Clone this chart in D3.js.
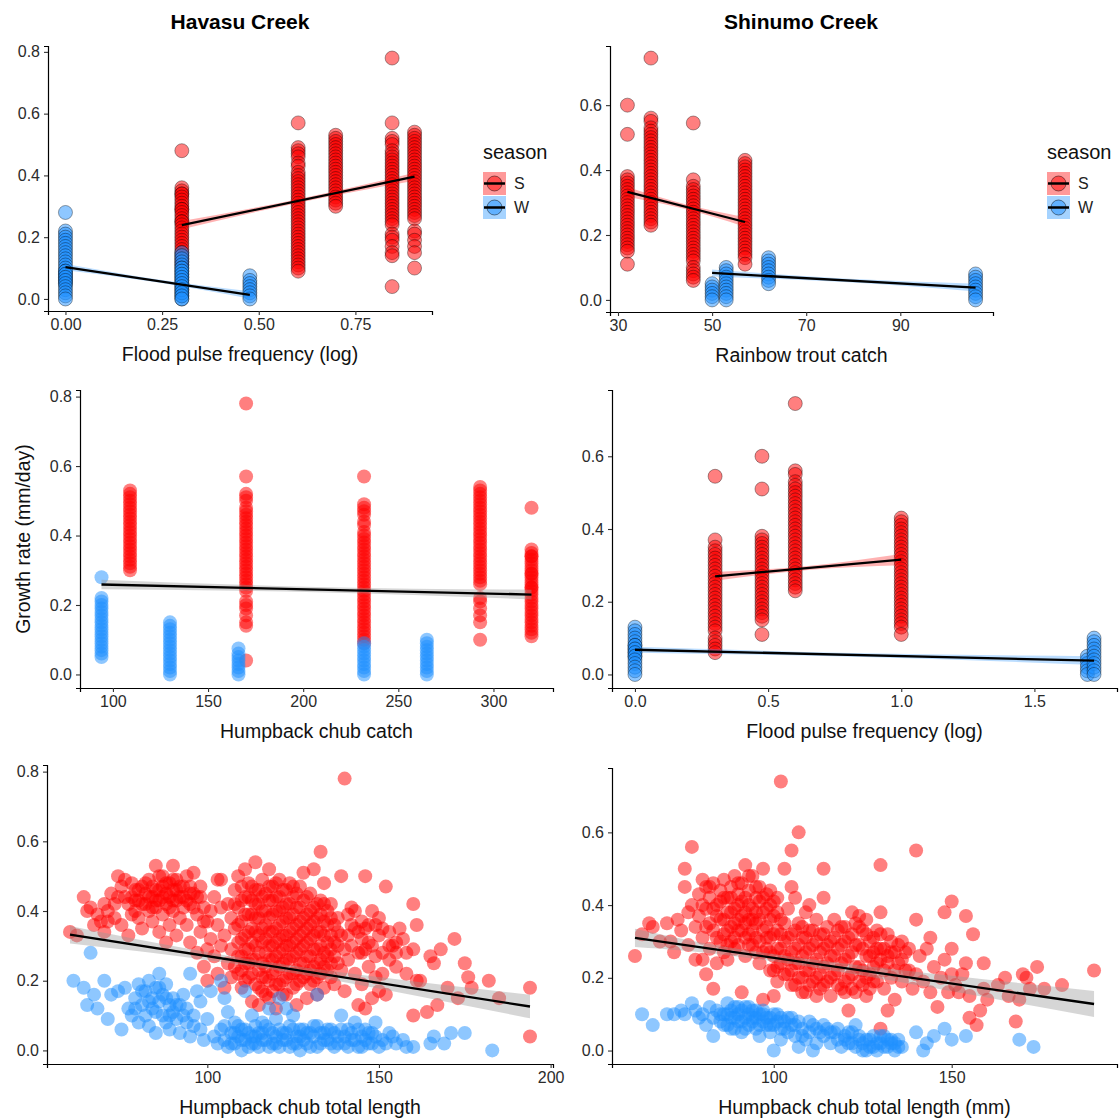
<!DOCTYPE html>
<html><head><meta charset="utf-8">
<script src="https://cdn.jsdelivr.net/npm/d3@7"></script>
<style>
body{margin:0;background:#fff;}
text{font-family:"Liberation Sans",Arial,sans-serif;}
</style></head><body>
<svg id="chart" width="1120" height="1120"></svg>
<script>
// ---------------- DATA ----------------
// Havasu Creek trips (season, flood pulse frequency (log), humpback chub catch, growth values)
const hvSeason = ["S","S","S","S","S","W","W","W","W","W"];
const hvFloodLog = [0.301,0.602,0.699,0.845,0.903,0,0,0.301,0.301,0.477];
const hvChubCatch = [320,232,109,170,293,94,232,130,265,166];
const hvTripGrowth = [
 [0.48,0.36,0.35,0.34,0.34,0.33,0.32,0.31,0.30,0.29,0.29,0.28,0.27,0.26,0.25,0.25,0.24,0.23,0.22,0.21,0.20,0.19,0.18,0.17,0.16,0.15,0.14,0.13,0.12,0.11],
 [0.57,0.49,0.48,0.47,0.46,0.44,0.43,0.41,0.40,0.39,0.38,0.37,0.36,0.35,0.34,0.33,0.32,0.31,0.30,0.29,0.28,0.27,0.26,0.25,0.24,0.23,0.22,0.21,0.20,0.19,0.18,0.17,0.16,0.15,0.14,0.13,0.12,0.11,0.10,0.09],
 [0.53,0.52,0.51,0.50,0.49,0.48,0.47,0.46,0.45,0.44,0.43,0.42,0.41,0.40,0.39,0.38,0.37,0.36,0.35,0.34,0.33,0.32,0.31,0.30],
 [0.78,0.57,0.52,0.51,0.50,0.48,0.47,0.46,0.45,0.44,0.43,0.42,0.41,0.40,0.39,0.38,0.37,0.36,0.35,0.34,0.33,0.32,0.31,0.30,0.29,0.28,0.27,0.26,0.25,0.24,0.21,0.20,0.19,0.17,0.15,0.14,0.04],
 [0.54,0.53,0.52,0.51,0.50,0.49,0.48,0.47,0.46,0.45,0.44,0.43,0.42,0.41,0.40,0.39,0.38,0.37,0.36,0.35,0.34,0.33,0.32,0.31,0.30,0.29,0.28,0.27,0.26,0.22,0.21,0.19,0.17,0.15,0.10],
 [0.28,0.22,0.21,0.20,0.19,0.18,0.17,0.16,0.15,0.14,0.13,0.12,0.11,0.10,0.09,0.08,0.07,0.06,0.05],
 [0.09,0.08,0.07,0.06,0.05,0.04,0.03,0.02,0.01,0.00],
 [0.15,0.14,0.13,0.12,0.11,0.10,0.09,0.08,0.07,0.06,0.05,0.04,0.03,0.02,0.01,0.00],
 [0.10,0.09,0.08,0.07,0.06,0.05,0.04,0.03,0.02,0.01,0.00],
 [0.075,0.06,0.05,0.04,0.03,0.02,0.01,0.00]
];
// Shinumo Creek trips (season, rainbow trout catch, flood pulse frequency (log), growth values)
const snSeason = ["S","S","S","S","W","W","W","W"];
const snTroutCatch = [32,37,46,57,50,53,62,106];
const snFloodLog = [0.477,0.602,0.301,1.0,1.699,1.724,0,0];
const snTripGrowth = [
 [0.60,0.51,0.38,0.37,0.36,0.35,0.34,0.33,0.32,0.31,0.30,0.29,0.28,0.27,0.26,0.25,0.24,0.23,0.22,0.21,0.20,0.19,0.18,0.17,0.16,0.15,0.11],
 [0.745,0.56,0.55,0.53,0.52,0.51,0.50,0.49,0.48,0.47,0.46,0.45,0.44,0.43,0.42,0.41,0.40,0.39,0.38,0.37,0.36,0.35,0.34,0.33,0.32,0.31,0.30,0.29,0.28,0.27,0.26,0.25,0.24,0.23],
 [0.545,0.37,0.35,0.34,0.33,0.32,0.31,0.30,0.29,0.28,0.27,0.26,0.25,0.24,0.23,0.22,0.21,0.20,0.19,0.18,0.17,0.16,0.15,0.14,0.13,0.12,0.10,0.09,0.08,0.07,0.06],
 [0.43,0.42,0.41,0.40,0.39,0.38,0.37,0.36,0.35,0.34,0.33,0.32,0.31,0.30,0.29,0.28,0.27,0.26,0.25,0.24,0.23,0.22,0.21,0.20,0.19,0.18,0.17,0.16,0.15,0.14,0.13,0.11],
 [0.05,0.04,0.03,0.02,0.01,0.00],
 [0.10,0.09,0.08,0.07,0.06,0.05,0.04,0.03,0.02,0.01,0.00],
 [0.13,0.12,0.11,0.10,0.09,0.08,0.07,0.06,0.05],
 [0.08,0.07,0.06,0.05,0.04,0.03,0.02,0.01,0.00]
];
// Havasu: total length (mm) vs growth
const hvLenS = [[60,0.34],[62,0.33],[64,0.44],[65,0.40],[66,0.41],[67,0.36],[68,0.39],[69,0.37],[70,0.42],[70,0.34],[71,0.40],[72,0.45],[73,0.38],[74,0.50],[74,0.44],[75,0.47],[75,0.36],[76,0.49],[77,0.42],[77,0.33],
[78,0.48],[78,0.44],[79,0.46],[79,0.40],[80,0.43],[80,0.38],[81,0.47],[81,0.35],[82,0.45],[82,0.42],[83,0.49],[83,0.40],[84,0.44],[84,0.37],[85,0.53],[85,0.46],[85,0.41],[86,0.50],[86,0.43],[86,0.34],[87,0.47],[87,0.39],[88,0.45],[88,0.42],[88,0.31],[89,0.48],[89,0.44],[89,0.36],[90,0.53],[90,0.46],[90,0.40],[91,0.49],[91,0.43],[91,0.33],[92,0.47],[92,0.38],[93,0.44],[93,0.41],[94,0.50],[94,0.36],[95,0.47],[95,0.42],[95,0.31],[96,0.51],[96,0.45],[97,0.39],[97,0.28],[98,0.44],[98,0.34],[99,0.41],[99,0.24],[100,0.37],[100,0.20],[100,0.29],
[101,0.40],[101,0.32],[102,0.44],[102,0.27],[103,0.49],[103,0.36],[103,0.22],[104,0.49],[104,0.41],[104,0.30],[105,0.33],[105,0.18],[106,0.42],[106,0.25],[107,0.38],[107,0.29],[107,0.21],[108,0.46],[108,0.35],[108,0.24],
[109,0.50],[109,0.41],[109,0.31],[109,0.22],[110,0.47],[110,0.37],[110,0.27],[110,0.18],[111,0.52],[111,0.44],[111,0.33],[111,0.25],[112,0.48],[112,0.39],[112,0.29],[112,0.21],[113,0.43],[113,0.35],[113,0.26],[113,0.14],[114,0.54],[114,0.46],[114,0.38],[114,0.30],[114,0.19],[115,0.42],[115,0.33],[115,0.23],[115,0.13],[116,0.49],[116,0.40],[116,0.31],[116,0.25],[116,0.17],[117,0.45],[117,0.36],[117,0.28],[117,0.21],[118,0.52],[118,0.43],[118,0.34],[118,0.26],[118,0.15],[119,0.47],[119,0.39],[119,0.30],[119,0.22],[120,0.44],[120,0.35],[120,0.27],[120,0.19],[120,0.12],[121,0.49],[121,0.40],[121,0.32],[121,0.24],[122,0.46],[122,0.37],[122,0.29],[122,0.20],[123,0.42],[123,0.33],[123,0.26],[123,0.16],[124,0.48],[124,0.38],[124,0.30],[124,0.22],[125,0.44],[125,0.35],[125,0.27],[125,0.18],[126,0.41],[126,0.32],[126,0.23],[126,0.13],[127,0.47],[127,0.37],[127,0.29],[127,0.20],[128,0.51],[128,0.43],[128,0.34],[128,0.25],[129,0.39],[129,0.31],[129,0.22],[129,0.15],[130,0.45],[130,0.36],[130,0.27],[130,0.19],[131,0.52],[131,0.41],[131,0.33],[131,0.24],[132,0.38],[132,0.29],[132,0.21],[132,0.16],[133,0.57],[133,0.43],[133,0.34],[133,0.26],[134,0.48],[134,0.37],[134,0.28],[134,0.18],[135,0.40],[135,0.31],[135,0.23],[136,0.42],[136,0.33],[136,0.25],[137,0.36],[137,0.27],[137,0.19],[138,0.38],[138,0.30],
[139,0.50],[139,0.33],[139,0.23],[140,0.78],[140,0.29],[140,0.17],[141,0.39],[141,0.26],[142,0.36],[142,0.30],[143,0.40],[143,0.22],[144,0.34],[144,0.13],[145,0.37],[145,0.28],[145,0.19],[146,0.50],[146,0.35],[146,0.12],[147,0.31],[147,0.24],[148,0.40],[148,0.15],[149,0.36],[149,0.21],[150,0.33],[150,0.17],[151,0.28],[151,0.22],[152,0.47],[152,0.16],[153,0.34],[153,0.26],[154,0.30],[155,0.31],[155,0.24],[157,0.32],[158,0.28],[160,0.42],[160,0.29],[160,0.10],[161,0.36],[161,0.20],[162,0.20],[164,0.11],[165,0.27],[166,0.25],[167,0.13],[168,0.29],[170,0.18],[172,0.32],[173,0.15],[175,0.25],[176,0.21],[177,0.18],[182,0.20],[185,0.15],[194,0.18],[194,0.04],
[108,0.42],[109,0.36],[109,0.27],[110,0.43],[110,0.32],[110,0.23],[111,0.39],[111,0.29],[111,0.20],[112,0.44],[112,0.34],[112,0.25],[113,0.47],[113,0.39],[113,0.31],[113,0.22],[114,0.42],[114,0.34],[114,0.26],[115,0.46],[115,0.38],[115,0.28],[115,0.18],[116,0.44],[116,0.35],[116,0.21],[117,0.40],[117,0.32],[117,0.24],[117,0.16],[118,0.47],[118,0.38],[118,0.30],[118,0.20],[119,0.43],[119,0.34],[119,0.26],[119,0.17],[120,0.48],[120,0.40],[120,0.31],[120,0.23],[121,0.44],[121,0.36],[121,0.28],[121,0.19],[122,0.41],[122,0.33],[122,0.25],[122,0.16],[123,0.46],[123,0.38],[123,0.30],[123,0.21],[124,0.42],[124,0.34],[124,0.26],[125,0.47],[125,0.39],[125,0.31],[125,0.22],[126,0.45],[126,0.36],[126,0.28],[126,0.19],[127,0.41],[127,0.33],[127,0.25],[128,0.38],[128,0.30],[128,0.21],[129,0.44],[129,0.35],[129,0.27],[130,0.40],[130,0.32],[130,0.23],[131,0.37],[131,0.29],[131,0.20],[132,0.42],[132,0.34],[132,0.25],[133,0.39],[133,0.30],[133,0.22],[134,0.42],[134,0.33],[134,0.24],[135,0.36],[135,0.27],[136,0.38],[136,0.29],[136,0.21],[137,0.31],[138,0.34],[138,0.25],
[79,0.43],[80,0.46],[81,0.42],[82,0.48],[83,0.44],[84,0.47],[84,0.41],[85,0.43],[86,0.46],[87,0.44],[87,0.50],[88,0.48],[89,0.41],[90,0.43],[90,0.49],[91,0.46],[92,0.44],[93,0.47],[94,0.43],[95,0.45],[96,0.41],[97,0.44],[98,0.47],[99,0.37],[76,0.44],[73,0.42],[71,0.37],[78,0.39],
[141,0.33],[142,0.41],[143,0.35],[144,0.28],[145,0.32],[146,0.29],[147,0.36],[148,0.30],[149,0.27],[150,0.38],[151,0.35],[153,0.30],[155,0.28],[156,0.35],[158,0.22]];
const hvLenW = [[61,0.20],[64,0.18],[65,0.13],[66,0.28],[67,0.16],[68,0.12],[70,0.20],[71,0.09],[72,0.16],[74,0.17],[75,0.06],[76,0.18],[77,0.12],[78,0.10],[79,0.15],[80,0.19],[80,0.08],[81,0.13],[82,0.17],[82,0.10],[83,0.20],[83,0.07],[84,0.15],[84,0.12],[85,0.18],[85,0.05],[86,0.22],[86,0.14],[87,0.10],[87,0.16],[88,0.19],[88,0.08],[89,0.13],[89,0.06],[90,0.15],[90,0.11],[91,0.09],[92,0.13],[92,0.05],[93,0.10],[94,0.08],[95,0.22],[95,0.04],[96,0.07],[97,0.17],[98,0.06],[99,0.03],[100,0.09],[101,0.17],[102,0.04],[103,0.02],[104,0.20],[104,0.06],[105,0.15],[105,0.03],[106,0.11],[106,0.01],[107,0.05],[108,0.08],[108,0.02],[109,0.04],[110,0.06],[110,0.00],[111,0.17],[111,0.03],[112,0.05],[113,0.10],[113,0.02],[114,0.07],[114,0.04],[115,0.01],[116,0.05],[116,0.08],[117,0.03],[118,0.06],[118,0.12],[119,0.02],[120,0.04],[120,0.09],[121,0.15],[121,0.01],[122,0.05],[123,0.03],[123,0.12],[124,0.07],[125,0.02],[125,0.10],[126,0.04],[127,0.06],[127,0.00],[128,0.03],[129,0.05],[130,0.01],[131,0.04],[132,0.16],[132,0.07],[133,0.02],[134,0.05],[135,0.03],[136,0.06],[137,0.01],[138,0.04],[139,0.10],[140,0.02],[141,0.06],[142,0.03],[143,0.08],[144,0.01],[145,0.04],[146,0.06],[147,0.02],[148,0.05],[149,0.08],[150,0.01],[151,0.03],[153,0.05],[155,0.02],[157,0.03],[160,0.01],[165,0.02],[166,0.04],[169,0.02],[171,0.05],[175,0.05],[183,0.00],
[105,0.07],[107,0.02],[108,0.05],[109,0.07],[110,0.03],[111,0.06],[112,0.01],[113,0.04],[114,0.02],[115,0.05],[116,0.03],[117,0.07],[118,0.01],[119,0.05],[120,0.02],[121,0.06],[122,0.03],[123,0.05],[124,0.01],[125,0.06],[126,0.02],[127,0.04],[128,0.06],[129,0.02],[130,0.05],[131,0.07],[132,0.01],[133,0.05],[134,0.03],[135,0.06],[136,0.02],[137,0.05],[138,0.02],[139,0.06],[140,0.04],[141,0.01],[142,0.05],[143,0.03],[144,0.06],[145,0.01],[146,0.03],[147,0.05],[148,0.02],[149,0.04],[152,0.02],[154,0.04],[158,0.01],
[79,0.12],[81,0.17],[83,0.14],[85,0.11],[86,0.18],[88,0.15],[89,0.10],[91,0.13],[93,0.16],[94,0.12],[96,0.10],[98,0.14]];
// Shinumo: total length (mm) vs growth
const snLenS = [[61,0.26],[63,0.32],[65,0.35],[66,0.34],[68,0.30],[70,0.35],[71,0.30],[72,0.27],[73,0.36],[74,0.33],[75,0.45],[75,0.50],[76,0.38],[76,0.29],[77,0.56],[77,0.40],[78,0.34],[78,0.25],[79,0.43],[79,0.37],[80,0.47],[80,0.31],[80,0.25],[81,0.45],[81,0.39],[81,0.21],[82,0.42],[82,0.35],[82,0.28],[83,0.17],[83,0.46],[83,0.33],[84,0.40],[84,0.37],[84,0.24],[85,0.44],[85,0.30],[86,0.36],[86,0.47],[86,0.27],[87,0.42],[87,0.33],[87,0.25],[88,0.45],[88,0.38],[88,0.30],[89,0.48],[89,0.35],[89,0.28],[90,0.43],[90,0.40],[90,0.33],[91,0.46],[91,0.37],[91,0.16],[92,0.51],[92,0.42],[92,0.31],[92,0.26],[93,0.44],[93,0.36],[93,0.29],[94,0.48],[94,0.39],[94,0.33],[95,0.45],[95,0.35],[95,0.27],[96,0.41],[96,0.30],[96,0.24],[97,0.50],[97,0.38],[97,0.14],[98,0.43],[98,0.34],[98,0.28],[99,0.40],[99,0.31],[99,0.22],[100,0.37],[100,0.26],[100,0.15],[101,0.42],[101,0.33],[101,0.23],[102,0.74],[102,0.36],[102,0.28],[103,0.50],[103,0.30],[103,0.21],[104,0.39],[104,0.25],[105,0.55],[105,0.45],[105,0.32],[105,0.22],[106,0.42],[106,0.28],[106,0.18],[107,0.60],[107,0.35],[107,0.24],[108,0.31],[108,0.20],[109,0.38],[109,0.27],[109,0.16],[110,0.40],[110,0.33],[110,0.22],[111,0.29],[111,0.19],[112,0.36],[112,0.25],[112,0.15],[113,0.32],[113,0.21],[114,0.50],[114,0.42],[114,0.28],[114,0.18],[115,0.34],[115,0.24],[116,0.30],[116,0.20],[116,0.15],[117,0.36],[117,0.26],[118,0.33],[118,0.22],[119,0.29],[119,0.17],[120,0.34],[120,0.25],[120,0.19],[121,0.31],[121,0.11],[122,0.38],[122,0.27],[122,0.21],[123,0.35],[123,0.16],[124,0.37],[124,0.29],[124,0.23],[125,0.33],[125,0.18],[126,0.36],[126,0.26],[126,0.15],[127,0.30],[127,0.21],[128,0.27],[128,0.19],[129,0.33],[129,0.24],[130,0.51],[130,0.38],[130,0.28],[130,0.06],[131,0.22],[131,0.17],[132,0.32],[132,0.26],[132,0.11],[133,0.30],[133,0.20],[134,0.27],[134,0.14],[135,0.24],[136,0.30],[136,0.19],[137,0.22],[138,0.28],[139,0.17],[140,0.55],[140,0.36],[140,0.21],[141,0.26],[142,0.19],[143,0.28],[144,0.31],[144,0.16],[145,0.23],[146,0.12],[147,0.20],[148,0.38],[148,0.25],[149,0.16],[150,0.41],[150,0.28],[150,0.21],[151,0.18],[152,0.16],[153,0.21],[154,0.37],[154,0.24],[155,0.09],[155,0.15],[156,0.32],[157,0.07],[158,0.11],[159,0.24],[159,0.17],[160,0.14],[163,0.18],[165,0.20],[166,0.15],[168,0.08],[169,0.14],[170,0.21],[171,0.20],[172,0.17],[174,0.23],[176,0.17],[181,0.18],[190,0.22],
[80,0.40],[81,0.34],[82,0.45],[83,0.39],[84,0.31],[85,0.41],[85,0.36],[86,0.32],[86,0.42],[87,0.38],[87,0.29],[88,0.34],[88,0.42],[89,0.39],[89,0.31],[90,0.46],[90,0.36],[90,0.29],[91,0.41],[91,0.33],[92,0.38],[92,0.35],[93,0.48],[93,0.40],[93,0.32],[94,0.36],[94,0.29],[95,0.42],[95,0.38],[95,0.31],[96,0.45],[96,0.36],[97,0.42],[97,0.33],[97,0.27],[98,0.39],[98,0.31],[99,0.44],[99,0.36],[99,0.27],[100,0.41],[100,0.32],[100,0.22],[101,0.38],[101,0.28],[101,0.19],[102,0.32],[102,0.24],[103,0.35],[103,0.26],[104,0.31],[104,0.21],[105,0.27],[105,0.18],[106,0.33],[106,0.24],[107,0.29],[107,0.20],[108,0.34],[108,0.26],[108,0.16],[109,0.31],[109,0.22],[110,0.28],[110,0.18],[111,0.33],[111,0.24],[112,0.30],[112,0.20],[113,0.27],[113,0.17],[114,0.32],[114,0.23],[115,0.29],[115,0.19],[116,0.26],[117,0.31],[117,0.21],[118,0.28],[118,0.18],[119,0.34],[119,0.24],[120,0.30],[120,0.16],[121,0.26],[121,0.20],[122,0.32],[122,0.17],[123,0.29],[123,0.23],[124,0.34],[124,0.19],[125,0.28],[125,0.22],[126,0.32],[126,0.20],[127,0.26],[127,0.17],[128,0.31],[128,0.23],[129,0.28],[129,0.19],[130,0.25],[130,0.32],[131,0.28],[132,0.24],[133,0.27],[134,0.22],[135,0.29],[136,0.25],[137,0.27],[138,0.22]];
const snLenW = [[63,0.10],[66,0.07],[70,0.10],[72,0.10],[74,0.11],[75,0.10],[77,0.13],[78,0.11],[79,0.09],[80,0.10],[81,0.07],[82,0.12],[83,0.04],[83,0.09],[84,0.11],[85,0.08],[86,0.10],[87,0.13],[87,0.07],[88,0.11],[88,0.09],[89,0.06],[89,0.12],[90,0.10],[90,0.08],[91,0.11],[91,0.05],[92,0.09],[92,0.12],[93,0.07],[93,0.10],[94,0.08],[94,0.11],[95,0.06],[95,0.09],[96,0.10],[96,0.04],[97,0.08],[97,0.11],[98,0.07],[99,0.09],[99,0.05],[100,0.00],[100,0.07],[101,0.10],[102,0.06],[102,0.03],[103,0.08],[104,0.05],[104,0.09],[105,0.07],[106,0.04],[107,0.01],[107,0.08],[108,0.06],[109,0.03],[110,0.05],[111,0.00],[111,0.07],[112,0.02],[113,0.05],[114,0.04],[115,0.06],[116,0.02],[117,0.05],[118,0.03],[119,0.01],[120,0.04],[121,0.02],[122,0.05],[123,0.07],[123,0.01],[124,0.03],[125,0.02],[126,0.00],[127,0.03],[128,0.01],[129,0.02],[130,0.04],[131,0.01],[132,0.03],[133,0.02],[134,0.00],[135,0.03],[136,0.01],[140,0.05],[142,0.00],[143,0.02],[145,0.04],[148,0.06],[150,0.03],[154,0.04],[169,0.03],[173,0.01],
[85,0.10],[86,0.07],[87,0.10],[88,0.06],[89,0.09],[90,0.12],[91,0.08],[92,0.06],[93,0.12],[94,0.09],[95,0.11],[96,0.07],[97,0.10],[98,0.09],[99,0.07],[100,0.10],[101,0.08],[102,0.09],[103,0.06],[105,0.09],[106,0.07],[108,0.04],[110,0.08],[112,0.06],[114,0.07],[116,0.05],[118,0.06],[120,0.03],[121,0.05],[122,0.02],[124,0.04],[125,0.00],[126,0.03],[127,0.01],[128,0.04],[129,0.00],[130,0.02],[131,0.04],[132,0.01],[133,0.03],[134,0.02],[135,0.01]];

// Fitted lines [x, y] and confidence bands [x, lower, upper]
const fitHvFloodS = [[0.301,0.239],[0.903,0.396]];
const bandHvFloodS = [[0.301,0.226,0.252],[0.6,0.311,0.323],[0.903,0.383,0.409]];
const fitHvFloodW = [[0,0.103],[0.477,0.013]];
const bandHvFloodW = [[0,0.093,0.113],[0.24,0.053,0.063],[0.477,0.001,0.025]];
const fitSnTroutS = [[32,0.333],[57,0.240]];
const bandSnTroutS = [[32,0.318,0.348],[44.5,0.279,0.294],[57,0.225,0.255]];
const fitSnTroutW = [[50,0.083],[106,0.038]];
const bandSnTroutW = [[50,0.072,0.094],[78,0.055,0.066],[106,0.026,0.050]];
const fitHvChub = [[94,0.259],[320,0.230]];
const bandHvChub = [[94,0.245,0.273],[207,0.237,0.252],[320,0.216,0.244]];
const fitSnFloodS = [[0.301,0.270],[1.0,0.3155]];
const bandSnFloodS = [[0.301,0.258,0.282],[0.65,0.287,0.298],[1.0,0.300,0.331]];
const fitSnFloodW = [[0,0.068],[1.724,0.038]];
const bandSnFloodW = [[0,0.060,0.076],[0.86,0.048,0.058],[1.724,0.026,0.050]];
const fitHvLen = [[60,0.332],[194,0.126]];
const bandHvLen = [[60,0.307,0.357],[120,0.230,0.250],[194,0.092,0.160]];
const fitSnLen = [[61,0.310],[190,0.128]];
const bandSnLen = [[61,0.285,0.335],[105,0.238,0.258],[190,0.092,0.164]];

// Tick labels
const yTicksLeft = [0,0.2,0.4,0.6,0.8];
const yTicksRight = [0,0.2,0.4,0.6];
const xTicksP1 = [0,0.25,0.5,0.75];
const xTicksP2 = [30,50,70,90];
const xTicksP3 = [100,150,200,250,300];
const xTicksP4 = [0,0.5,1.0,1.5];
const xTicksP5 = [100,150,200];
const xTicksP6 = [100,150];
const seasons = ["S","W"];

// ---------------- DRAW ----------------
const svg = d3.select("#chart");
const RED = "#FF0000", BLUE = "#1E90FF";
const colorOf = s => s === "S" ? RED : BLUE;
const expand = e => { const r = e[1]-e[0]; return [e[0]-0.05*r, e[1]+0.05*r]; };

function tripPoints(season, xs, growth){
  const pts = [];
  growth.forEach((arr,i)=>arr.forEach(v=>pts.push({x:xs[i], y:v, s:season[i]})));
  return pts;
}
function lenPoints(S, W){
  return S.map(d=>({x:d[0],y:d[1],s:"S"})).concat(W.map(d=>({x:d[0],y:d[1],s:"W"})));
}

function drawPanel(o){
  const g = svg.append("g");
  const x = d3.scaleLinear().domain(expand(d3.extent(o.points,d=>d.x))).range([o.L,o.R]);
  const y = d3.scaleLinear().domain(expand(d3.extent(o.points,d=>d.y))).range([o.B,o.T]);
  g.append("g").selectAll("circle").data(o.points).join("circle")
    .attr("cx",d=>x(d.x)).attr("cy",d=>y(d.y)).attr("r",7)
    .attr("fill",d=>colorOf(d.s)).attr("fill-opacity",0.5)
    .attr("stroke",o.outline?"#000":"none").attr("stroke-opacity",0.45).attr("stroke-width",0.8);
  o.fits.forEach(f=>{
    const area = d3.area().x(d=>x(d[0])).y0(d=>y(d[1])).y1(d=>y(d[2])).curve(d3.curveNatural);
    g.append("path").attr("d",area(f.band)).attr("fill",f.fill).attr("fill-opacity",f.op);
    const line = d3.line().x(d=>x(d[0])).y(d=>y(d[1]));
    g.append("path").attr("d",line(f.line)).attr("stroke","#000").attr("stroke-width",2.3).attr("fill","none");
  });
  const xa = g.append("g").attr("transform",`translate(0,${o.B})`)
    .call(d3.axisBottom(x).tickValues(o.xTicks).tickFormat(o.xFmt).tickSizeOuter(0).tickSize(4).tickPadding(4));
  const ya = g.append("g").attr("transform",`translate(${o.L},0)`)
    .call(d3.axisLeft(y).tickValues(o.yTicks).tickFormat(d3.format(".1f")).tickSizeOuter(0).tickSize(4).tickPadding(4));
  [xa,ya].forEach(a=>{
    a.select(".domain").attr("stroke","#000").attr("stroke-width",1.2);
    a.selectAll(".tick line").attr("stroke","#333").attr("stroke-width",1.1);
    a.selectAll(".tick text").attr("fill","#2b2b2b").style("font-size","16px").style("font-family","'Liberation Sans',Arial,sans-serif");
  });
  g.append("text").attr("x",(o.L+o.R)/2).attr("y",o.B+50).attr("text-anchor","middle")
    .style("font-size","19.5px").attr("fill","#111").text(o.xTitle);
  return {x,y};
}

function drawLegend(x0){
  const g = svg.append("g");
  g.append("text").attr("x",x0).attr("y",159).style("font-size","20px").attr("fill","#111").text("season");
  seasons.forEach((s,i)=>{
    const yt = 172 + i*24;
    g.append("rect").attr("x",x0).attr("y",yt).attr("width",23).attr("height",23)
      .attr("fill",colorOf(s)).attr("fill-opacity",0.4);
    g.append("circle").attr("cx",x0+11.5).attr("cy",yt+11.5).attr("r",7.5)
      .attr("fill",colorOf(s)).attr("fill-opacity",0.5).attr("stroke","#000").attr("stroke-opacity",0.45);
    g.append("line").attr("x1",x0+1).attr("x2",x0+22).attr("y1",yt+11.5).attr("y2",yt+11.5)
      .attr("stroke","#000").attr("stroke-width",2.5);
    g.append("text").attr("x",x0+31).attr("y",yt+17).style("font-size","16px").attr("fill","#222").text(s);
  });
}

// Panel 1: Havasu, flood pulse
drawPanel({L:48,R:432,T:46,B:311, points:tripPoints(hvSeason,hvFloodLog,hvTripGrowth), outline:true,
  xTicks:xTicksP1, xFmt:d3.format(".2f"), yTicks:yTicksLeft, xTitle:"Flood pulse frequency (log)",
  fits:[{line:fitHvFloodS,band:bandHvFloodS,fill:RED,op:0.3},{line:fitHvFloodW,band:bandHvFloodW,fill:BLUE,op:0.3}]});
// Panel 2: Shinumo, rainbow trout catch
drawPanel({L:610,R:993,T:46,B:312, points:tripPoints(snSeason,snTroutCatch,snTripGrowth), outline:true,
  xTicks:xTicksP2, xFmt:d3.format("d"), yTicks:yTicksRight, xTitle:"Rainbow trout catch",
  fits:[{line:fitSnTroutS,band:bandSnTroutS,fill:RED,op:0.3},{line:fitSnTroutW,band:bandSnTroutW,fill:BLUE,op:0.3}]});
// Panel 3: Havasu, humpback chub catch
drawPanel({L:80,R:553,T:390,B:688, points:tripPoints(hvSeason,hvChubCatch,hvTripGrowth), outline:false,
  xTicks:xTicksP3, xFmt:d3.format("d"), yTicks:yTicksLeft, xTitle:"Humpback chub catch",
  fits:[{line:fitHvChub,band:bandHvChub,fill:"#999999",op:0.4}]});
// Panel 4: Shinumo, flood pulse
drawPanel({L:612,R:1117,T:390,B:688, points:tripPoints(snSeason,snFloodLog,snTripGrowth), outline:true,
  xTicks:xTicksP4, xFmt:d3.format(".1f"), yTicks:yTicksRight, xTitle:"Flood pulse frequency (log)",
  fits:[{line:fitSnFloodS,band:bandSnFloodS,fill:RED,op:0.3},{line:fitSnFloodW,band:bandSnFloodW,fill:BLUE,op:0.3}]});
// Panel 5: Havasu, total length
drawPanel({L:47,R:553,T:765,B:1064, points:lenPoints(hvLenS,hvLenW), outline:false,
  xTicks:xTicksP5, xFmt:d3.format("d"), yTicks:yTicksLeft, xTitle:"Humpback chub total length",
  fits:[{line:fitHvLen,band:bandHvLen,fill:"#999999",op:0.4}]});
// Panel 6: Shinumo, total length
drawPanel({L:612,R:1117,T:768,B:1064, points:lenPoints(snLenS,snLenW), outline:false,
  xTicks:xTicksP6, xFmt:d3.format("d"), yTicks:yTicksRight, xTitle:"Humpback chub total length (mm)",
  fits:[{line:fitSnLen,band:bandSnLen,fill:"#999999",op:0.4}]});

drawLegend(483);
drawLegend(1047);

// Titles
svg.append("text").attr("x",240).attr("y",29).attr("text-anchor","middle").style("font-size","21px").style("font-weight","bold").attr("fill","#000").text("Havasu Creek");
svg.append("text").attr("x",801).attr("y",29).attr("text-anchor","middle").style("font-size","21px").style("font-weight","bold").attr("fill","#000").text("Shinumo Creek");
svg.append("text").attr("transform","translate(30,539) rotate(-90)").attr("text-anchor","middle").style("font-size","19.5px").attr("fill","#111").text("Growth rate (mm/day)");
</script></body></html>
